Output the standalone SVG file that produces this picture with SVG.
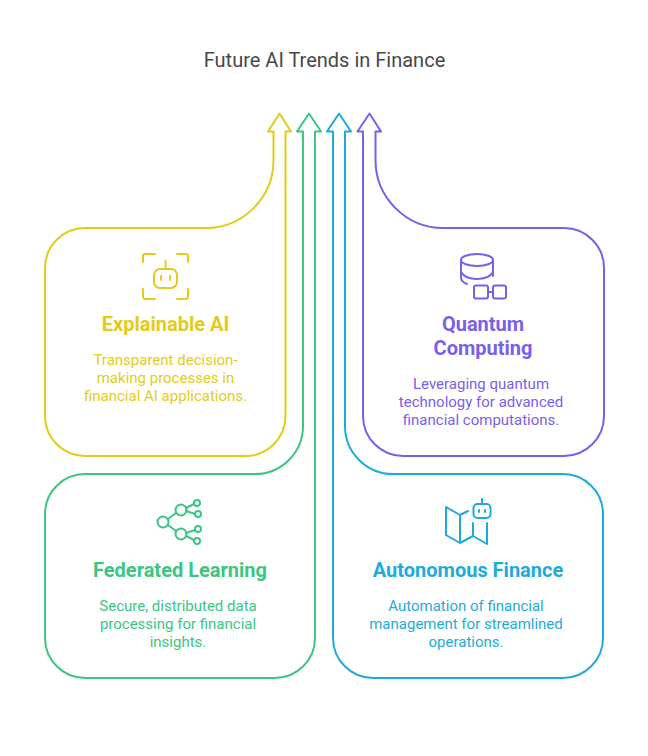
<svg xmlns="http://www.w3.org/2000/svg" width="648" height="756" viewBox="0 0 648 756">
<style>
text{font-family:Roboto,"Liberation Sans",sans-serif;text-anchor:middle}
.t{font-size:20px;fill:#484848}
.h{font-size:20px;font-weight:700}
.b{font-size:15px}
.o{fill:none;stroke-width:2;stroke-linejoin:round;stroke-linecap:round}
.i{fill:none;stroke-width:2;stroke-linejoin:round;stroke-linecap:round}
.y{stroke:#e4cb1a}.g{stroke:#3cc583}.c{stroke:#1eabda}.p{stroke:#7a5fe9}
.yf{fill:#e4cb1a}.gf{fill:#3cc583}.cf{fill:#1eabda}.pf{fill:#7a5fe9}
</style>
<rect width="648" height="756" fill="#fff"/>
<text class="t" x="324.500" y="67">Future AI Trends in Finance</text>
<g id="connectors">
<path class="o y" d="M279.500 113.500L291 131.500H285.500V416A40 40 0 0 1 245.500 456H85A40 40 0 0 1 45 416V268A40 40 0 0 1 85 228H205.500A68 68 0 0 0 273.500 160V131.500H268Z"/>
<path class="o g" d="M309 113.500L321 131.500H315V638A40 40 0 0 1 275 678H85A40 40 0 0 1 45 638V514A40 40 0 0 1 85 474H255A48 48 0 0 0 303 426V131.500H297Z"/>
<path class="o c" d="M339 113.500L351 131.500H345V426A48 48 0 0 0 393 474H563A40 40 0 0 1 603 514V638A40 40 0 0 1 563 678H373A40 40 0 0 1 333 638V131.500H327Z"/>
<path class="o p" d="M369.500 113.500L381 131.500H375.500V160A68 68 0 0 0 443.500 228H564A40 40 0 0 1 604 268V416A40 40 0 0 1 564 456H403A40 40 0 0 1 363 416V131.500H357.500Z"/>
</g>
<g id="explainable-ai">
<g class="i y">
<path d="M143 262V256Q143 254 145 254H155M177 254H186Q188 254 188 256V262M143 289V296Q143 299 145 299H155M177 299H186Q188 299 188 296V289"/>
<rect x="154" y="269" width="23" height="19" rx="6"/>
<path d="M165.500 261V269M161 276V280M170 276V280"/>
</g>
<text class="h yf" x="165.500" y="331">Explainable AI</text>
<text class="b yf" x="165.500" y="365">Transparent decision-</text>
<text class="b yf" x="165.500" y="383">making processes in</text>
<text class="b yf" x="165.500" y="401">financial AI applications.</text>
</g>
<g id="quantum-computing">
<g class="i p">
<ellipse cx="477" cy="260" rx="16" ry="6"/>
<path d="M461 260V277Q461 282 467 284M493 260V276M461 272Q465 279 477 279Q489 279 493 272"/>
<rect x="474" y="285.500" width="14" height="13" rx="2"/>
<rect x="493" y="285.500" width="13" height="13" rx="2"/>
<path d="M488 292H493"/>
</g>
<text class="h pf" x="483" y="331">Quantum</text>
<text class="h pf" x="483" y="355">Computing</text>
<text class="b pf" x="481" y="389">Leveraging quantum</text>
<text class="b pf" x="481" y="407">technology for advanced</text>
<text class="b pf" x="481" y="425">financial computations.</text>
</g>
<g id="federated-learning">
<g class="i g">
<circle cx="163" cy="522" r="5.500"/>
<circle cx="181" cy="510" r="5.500"/>
<circle cx="181" cy="534" r="5.500"/>
<circle cx="197" cy="503" r="3"/>
<circle cx="198" cy="514" r="3"/>
<circle cx="198" cy="529" r="3"/>
<circle cx="197" cy="541" r="3"/>
<path d="M168 519L176 513M168 525L176 531M186 508L194 504M186 511L195 514M186 533L195 530M186 536L194 540"/>
</g>
<text class="h gf" x="180" y="577">Federated Learning</text>
<text class="b gf" x="178" y="611">Secure, distributed data</text>
<text class="b gf" x="178" y="629">processing for financial</text>
<text class="b gf" x="178" y="647">insights.</text>
</g>
<g id="autonomous-finance">
<g class="i c">
<path d="M468 511L460 515L446 507V535L460 543L473 536L487 544V523M473 523V536M460 515V543"/>
<rect x="473.500" y="504" width="17" height="14" rx="4"/>
<path d="M482 499V504M479 510V512M485 510V512"/>
</g>
<text class="h cf" x="468" y="577">Autonomous Finance</text>
<text class="b cf" x="466" y="611">Automation of financial</text>
<text class="b cf" x="466" y="629">management for streamlined</text>
<text class="b cf" x="466" y="647">operations.</text>
</g>
</svg>
